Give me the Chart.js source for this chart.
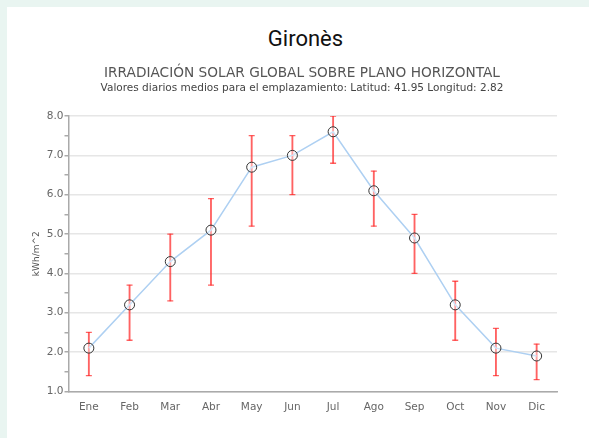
<!DOCTYPE html>
<html>
<head>
<meta charset="utf-8">
<script src="https://cdn.jsdelivr.net/npm/chart.js@4"></script>
<style>
    html, body { margin: 0; padding: 0; width: 589px; height: 438px; overflow: hidden; background: #e9f5f1; }
    #card { position: absolute; left: 7px; top: 7px; width: 600px; height: 450px; background: #fff; }
    #heading { position: absolute; left: 11px; width: 589px; top: 26px; margin: 0; text-align: center; font: 400 22px Roboto, sans-serif; color: #111; }
    #wrap { position: absolute; left: 14px; top: 55px; width: 559px; height: 383px; }
</style>
</head>
<body>
<div id="card"></div>
<h1 id="heading">Gironès</h1>
<div id="wrap"><canvas id="irradChart"></canvas></div>
<script>
const months = ["Ene", "Feb", "Mar", "Abr", "May", "Jun", "Jul", "Ago", "Sep", "Oct", "Nov", "Dic"];
const meanValues = [2.1, 3.2, 4.3, 5.1, 6.7, 7.0, 7.6, 6.1, 4.9, 3.2, 2.1, 1.9];
const lowValues = [1.4, 2.3, 3.3, 3.7, 5.2, 6.0, 6.8, 5.2, 4.0, 2.3, 1.4, 1.3];
const highValues = [2.5, 3.7, 5.0, 5.9, 7.5, 7.5, 8.0, 6.6, 5.5, 3.8, 2.6, 2.2];

const errColor = "rgba(255, 45, 45, 0.75)";
const fontFamily = "'DejaVu Sans', sans-serif";

new Chart(document.getElementById("irradChart"), {
    data: {
        labels: months,
        datasets: [
            {
                type: "line",
                data: meanValues,
                borderColor: "#aed0f2",
                borderWidth: 1.5,
                tension: 0,
                pointRadius: 5,
                pointBorderWidth: 1,
                pointBorderColor: "#333",
                pointBackgroundColor: "rgba(255,255,255,0.4)",
                order: 0
            },
            {
                type: "bar",
                data: lowValues.map((l, i) => [l, highValues[i]]),
                backgroundColor: errColor,
                barThickness: 1.2,
                order: 2
            },
            {
                type: "line",
                data: highValues,
                showLine: false,
                pointStyle: "line",
                pointRadius: 3,
                pointBorderWidth: 1.3,
                pointBorderColor: errColor,
                order: 1
            },
            {
                type: "line",
                data: lowValues,
                showLine: false,
                pointStyle: "line",
                pointRadius: 3,
                pointBorderWidth: 1.3,
                pointBorderColor: errColor,
                order: 1
            }
        ]
    },
    options: {
        responsive: true,
        maintainAspectRatio: false,
        animation: false,
        layout: { padding: { left: 17, right: 0, bottom: 22 } },
        plugins: {
            legend: { display: false },
            tooltip: { enabled: false },
            title: {
                display: true,
                text: "IRRADIACIÓN SOLAR GLOBAL SOBRE PLANO HORIZONTAL",
                color: "#555",
                font: { family: fontFamily, size: 13.7, weight: "normal" },
                padding: { top: 10, bottom: 1 }
            },
            subtitle: {
                display: true,
                text: "Valores diarios medios para el emplazamiento: Latitud: 41.95 Longitud: 2.82",
                color: "#444",
                font: { family: fontFamily, size: 10.5 },
                padding: { top: 0, bottom: 21 }
            }
        },
        scales: {
            x: {
                grid: { display: false },
                border: { color: "#aaa", width: 1.5 },
                ticks: { color: "#666", font: { family: fontFamily, size: 10.5 }, padding: 2 }
            },
            y: {
                min: 1,
                max: 8,
                border: { color: "#aaa", width: 1.5 },
                grid: {
                    color: ctx => ctx.tick && ctx.tick.value % 1 === 0 ? "#e6e6e6" : "rgba(0,0,0,0)",
                    tickColor: "#aaa",
                    tickLength: 4,
                    lineWidth: 1.5
                },
                ticks: {
                    stepSize: 0.5,
                    autoSkip: false,
                    padding: 1,
                    color: "#666",
                    font: { family: fontFamily, size: 10.5 },
                    callback: v => v % 1 === 0 ? v.toFixed(1) : ""
                },
                title: {
                    display: true,
                    text: "kWh/m^2",
                    color: "#555",
                    font: { family: fontFamily, size: 9 },
                    padding: { top: 0, bottom: 4 }
                }
            },
            // empty right-hand axis, only keeps the plot clear of the card edge
            yRight: {
                position: "right",
                min: 1,
                max: 8,
                grid: { display: false },
                border: { display: false },
                ticks: { display: false },
                afterFit: scale => { scale.width = 16; }
            }
        }
    }
});
</script>
</body>
</html>
